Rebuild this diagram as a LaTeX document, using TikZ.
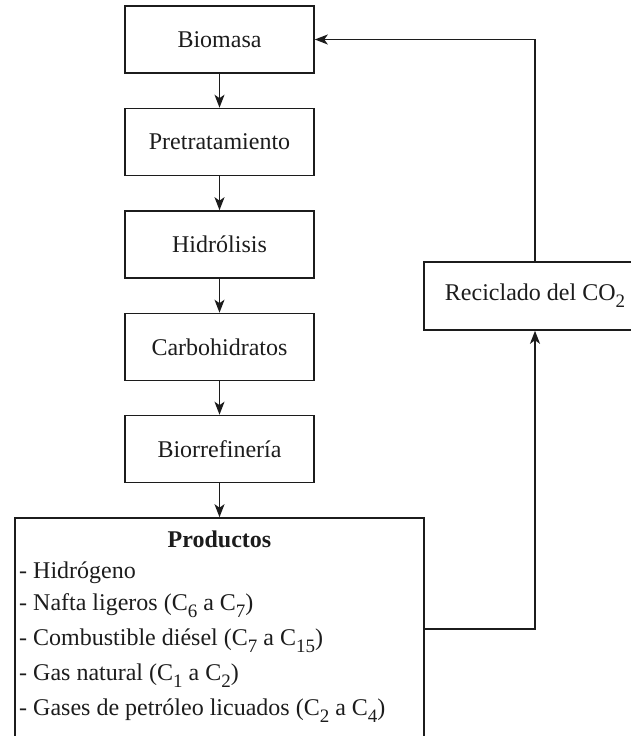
\documentclass[tikz,border=0pt]{standalone}
\usepackage{fontspec}
\setmainfont{Liberation Serif}
\usetikzlibrary{arrows.meta}
\definecolor{ink}{HTML}{1C1C1C}
% chemical subscript set in the text face, a little larger and lower than \textsubscript
\newcommand\chemsub[1]{\raisebox{-7pt}{\fontsize{19}{19}\selectfont #1}}
\begin{document}
\begin{tikzpicture}[x=1pt,y=-1pt,
  every node/.style={text=ink, font=\fontsize{24}{29}\selectfont},
  stage/.style={draw=ink, line width=1.6pt, inner sep=0pt,
    minimum width=189pt, minimum height=67pt},
  arr/.style={draw=ink, line width=1.6pt,
    -{Stealth[length=13pt,width=10pt,inset=3.5pt]}},
  item/.style={anchor=base west, inner sep=0pt}]
\useasboundingbox (0,0) rectangle (631,736);

% process chain
\node[stage] (bio) at (219.5,39.5)  {Biomasa};
\node[stage] (pre) at (219.5,142)   {Pretratamiento};
\node[stage] (hid) at (219.5,244.5) {Hidrólisis};
\node[stage] (car) at (219.5,347)   {Carbohidratos};
\node[stage] (bre) at (219.5,449)   {Biorrefinería};

% products box
\node[draw=ink, line width=1.6pt, minimum width=409pt, minimum height=222pt,
  inner sep=0pt] (prod) at (219.5,629) {};
\node[anchor=base, inner sep=0pt, font=\fontsize{24}{29}\selectfont\bfseries]
  (ptitle) at (219.5,547) {Productos};
\node[item] (p1) at (19,578) {- Hidrógeno};
\node[item] (p2) at (19,610) {- Nafta ligeros (C\chemsub{6} a C\chemsub{7})};
\node[item] (p3) at (19,645) {- Combustible diésel (C\chemsub{7} a C\chemsub{15})};
\node[item] (p4) at (19,680) {- Gas natural (C\chemsub{1} a C\chemsub{2})};
\node[item] (p5) at (19,715) {- Gases de petróleo licuados (C\chemsub{2} a C\chemsub{4})};

% CO2 recycling
\node[draw=ink, line width=1.6pt, inner sep=0pt, minimum width=222pt,
  minimum height=68pt] (rec) at (535,296) {Reciclado del CO\chemsub{2}};

% connectors
\draw[arr] (bio) -- (pre);
\draw[arr] (pre) -- (hid);
\draw[arr] (hid) -- (car);
\draw[arr] (car) -- (bre);
\draw[arr] (bre) -- (prod);
\draw[arr] (prod.east) -| (rec.south);
\draw[arr] (rec.north) |- (bio.east);
\end{tikzpicture}
\end{document}
